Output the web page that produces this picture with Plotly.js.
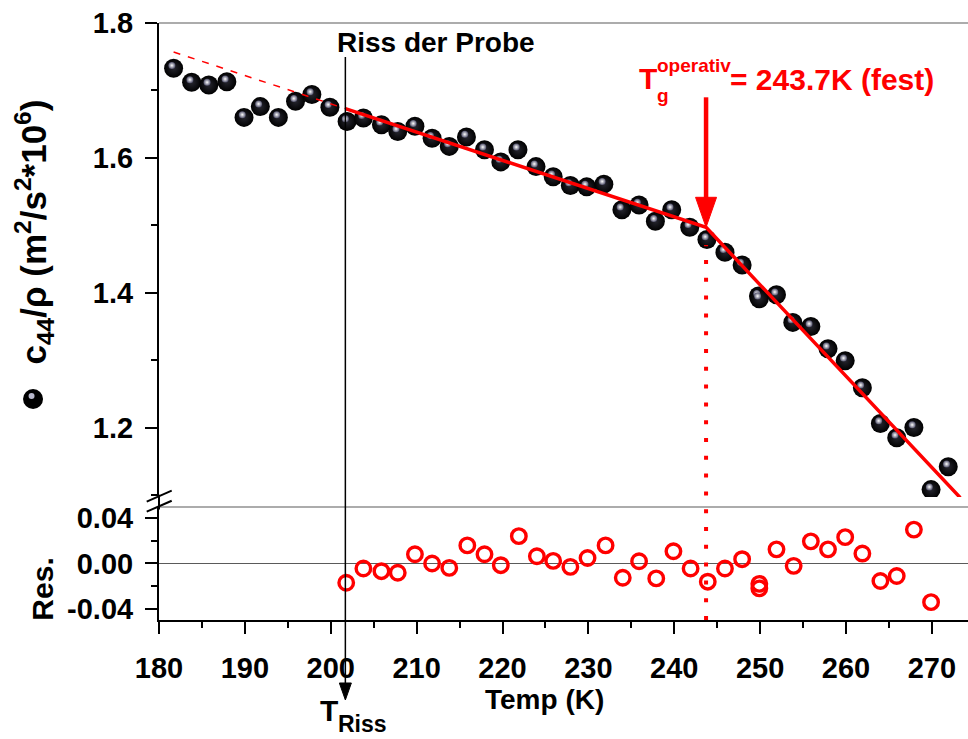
<!DOCTYPE html>
<html><head><meta charset="utf-8">
<script src="https://cdn.plot.ly/plotly-3.0.1.min.js"></script>
<style>html,body{margin:0;padding:0;background:#fff}#chart{width:968px;height:739px}</style>
</head><body><div id="chart"></div>
<script>
// ---- data ----
const temp = [181.7,183.8,185.8,187.9,189.9,191.8,193.9,195.9,197.8,199.9,
  201.9,203.8,205.9,207.8,209.8,211.8,213.8,215.8,217.9,219.8,
  221.8,223.9,225.9,227.9,229.8,231.8,233.9,235.9,237.8,239.7,
  241.8,243.8,245.9,247.9,249.8,249.9,251.9,253.8,255.9,257.9,
  259.9,261.9,264.0,265.9,267.9,269.9,271.9];
const c44 = [1.733,1.712,1.708,1.713,1.660,1.676,1.660,1.684,1.694,1.675,
  1.654,1.659,1.649,1.639,1.647,1.629,1.617,1.631,1.612,1.594,
  1.612,1.587,1.572,1.559,1.557,1.561,1.523,1.530,1.506,1.523,
  1.497,1.479,1.460,1.441,1.395,1.391,1.397,1.356,1.350,1.317,
  1.299,1.259,1.206,1.185,1.200,1.108,1.142];
const resTemp = [201.8,203.8,205.9,207.8,209.8,211.8,213.8,215.9,217.9,219.8,
  221.9,224.0,225.9,227.9,229.9,232.0,234.0,235.9,237.9,239.9,
  241.9,243.9,245.9,247.9,249.9,249.9,251.9,253.9,255.9,257.9,
  259.9,261.9,264.0,265.9,267.9,269.9];
const resVal = [-0.017,-0.0044,-0.0068,-0.0082,0.0082,0.000,-0.0039,0.016,0.0082,-0.0015,
  0.0242,0.0064,0.0023,-0.003,0.0049,0.016,-0.0126,0.002,-0.0132,0.0108,
  -0.0044,-0.0161,-0.0044,0.0038,-0.018,-0.022,0.0125,-0.0021,0.0196,0.0125,
  0.0233,0.0088,-0.0155,-0.0111,0.030,-0.0342];
const fitDashT = [181.7, 201.7];
const fitDashY = [1.757, 1.673];
const fitT = [201.7, 243.7, 273.3];
const fitY = [1.673, 1.497, 1.096];
const tRiss = 201.7;
const tgOperativ = 243.7;
const tgY = 1.497;
const xTickVals = [180,190,200,210,220,230,240,250,260,270];
const xTickText = ['180','190','200','210','220','230','240','250','260','270'];
const yTickVals = [1.2,1.4,1.6,1.8];
const yTickText = ['1.2','1.4','1.6','1.8'];
const resTickVals = [-0.04,0,0.04];
const resTickText = ['-0.04','0.00','0.04'];

// ---- chart ----
const FONT = 'Liberation Sans, Arial, sans-serif';
const tickFont = {family: FONT, size: 29, color: '#000', weight: 'bold'};
const RED = '#ff0000';
const X_RANGE = [180, 274.2];

const traces = [
  {x: temp, y: c44, xaxis: 'x', yaxis: 'y', mode: 'markers', name: 'c44/rho',
   marker: {size: 19, color: '#000000', line: {width: 0}, gradient: {type: 'radial', color: '#26262f'}}},
  {x: temp.map(t => t - 0.2), y: c44.map(v => v + 0.004), xaxis: 'x', yaxis: 'y', mode: 'markers',
   hoverinfo: 'skip', marker: {size: 7, color: '#50506a', line: {width: 0}, gradient: {type: 'radial', color: '#ffffff'}}},
  {x: fitDashT, y: fitDashY, xaxis: 'x', yaxis: 'y', mode: 'lines',
   line: {color: RED, width: 1.5, dash: '7px,8px'}},
  {x: fitT, y: fitY, xaxis: 'x', yaxis: 'y', mode: 'lines',
   line: {color: RED, width: 3.5}},
  {x: resTemp, y: resVal, xaxis: 'x', yaxis: 'y2', mode: 'markers', name: 'Res.',
   marker: {symbol: 'circle-open', size: 14.5, color: RED, line: {width: 3.4, color: RED}}}
];

const ann = (text, x, y, size, opts) => Object.assign({
  text: text, x: x, y: y, xref: 'paper', yref: 'paper', showarrow: false,
  xanchor: 'center', yanchor: 'middle',
  font: {family: FONT, size: size, color: '#000', weight: 'bold'}
}, opts || {});

const annotations = [
  ann('Riss der Probe', 0.2176, 0.9665, 28, {xanchor: 'left'}),
  ann('T', 0.5909, 0.9062, 30, {xanchor: 'left', font: {family: FONT, size: 30, color: RED, weight: 'bold'}}),
  ann('operativ', 0.6131, 0.9296, 19, {xanchor: 'left', font: {family: FONT, size: 19, color: RED, weight: 'bold'}}),
  ann('g', 0.6131, 0.8787, 19, {xanchor: 'left', font: {family: FONT, size: 19, color: RED, weight: 'bold'}}),
  ann('= 243.7K (fest)', 0.7033, 0.9052, 30, {xanchor: 'left', font: {family: FONT, size: 30, color: RED, weight: 'bold'}}),
  ann('c<sub>44</sub>/ρ (m<sup>2</sup>/s<sup>2</sup>*10<sup>6</sup>)', -0.1545, 0.649, 35, {textangle: -90}),
  ann('Res.', -0.1451, 0.0519, 30, {textangle: -90}),
  ann('Temp (K)', 0.4771, -0.134, 28),
  ann('T', 0.1965, -0.1524, 30, {xanchor: 'left'}),
  ann('Riss', 0.2188, -0.1742, 23, {xanchor: 'left'})
];

const rissPaperX = (tRiss - X_RANGE[0]) / (X_RANGE[1] - X_RANGE[0]);
const GRAY = '#5a5a5a';
const shapes = [
  {type: 'line', xref: 'paper', yref: 'paper', x0: 0, x1: 1, y0: 1, y1: 1, layer: 'below', line: {color: GRAY, width: 1.2}},
  {type: 'line', xref: 'paper', yref: 'paper', x0: 0, x1: 1, y0: 0.1893, y1: 0.1893, layer: 'below', line: {color: GRAY, width: 1.2}},
  {type: 'line', xref: 'paper', yref: 'y2', x0: 0, x1: 1, y0: 0, y1: 0, layer: 'below', line: {color: GRAY, width: 1.2}},
  // red dotted line at Tg
  {type: 'line', xref: 'x', yref: 'paper', x0: tgOperativ, x1: tgOperativ, y0: 0, y1: 0.628,
   line: {color: RED, width: 4, dash: '4px,13.8px'}},
  // red arrow pointing at the kink
  {type: 'line', xref: 'x', yref: 'y', xsizemode: 'scaled', ysizemode: 'pixel', yanchor: tgY,
   x0: tgOperativ, x1: tgOperativ, y0: 25, y1: 130, line: {color: RED, width: 4.5}},
  {type: 'path', xref: 'x', yref: 'y', xsizemode: 'pixel', ysizemode: 'pixel',
   xanchor: tgOperativ, yanchor: tgY, path: 'M -10.5 30 L 10.5 30 L 0 0 Z',
   fillcolor: RED, line: {color: RED, width: 1}},
  // black "Riss" arrow
  {type: 'line', xref: 'paper', yref: 'paper', ysizemode: 'pixel', yanchor: -0.134,
   x0: rissPaperX, x1: rissPaperX, y0: 12, y1: 643, line: {color: '#000', width: 1.5}},
  {type: 'path', xref: 'paper', yref: 'paper', xsizemode: 'pixel', ysizemode: 'pixel',
   xanchor: rissPaperX, yanchor: -0.134, path: 'M -6 17 L 6 17 L 0 0 Z',
   fillcolor: '#000', line: {color: '#000', width: 1}},
  // continuous left axis through the break
  {type: 'line', xref: 'paper', yref: 'paper', x0: 0, x1: 0, y0: 0.185, y1: 0.21, line: {color: '#000', width: 2}},
  // break marks
  {type: 'line', xref: 'paper', yref: 'paper', x0: -0.0152, x1: 0.0157, y0: 0.1982, y1: 0.2166, line: {color: '#000', width: 2}},
  {type: 'line', xref: 'paper', yref: 'paper', x0: -0.0152, x1: 0.0157, y0: 0.1814, y1: 0.1998, line: {color: '#000', width: 2}},
  // legend sphere next to y title
  {type: 'circle', xref: 'paper', yref: 'paper', xsizemode: 'pixel', ysizemode: 'pixel',
   xanchor: -0.1557, yanchor: 0.3702, x0: -10, x1: 10, y0: -10, y1: 10,
   fillcolor: '#000', line: {width: 0}},
  {type: 'circle', xref: 'paper', yref: 'paper', xsizemode: 'pixel', ysizemode: 'pixel',
   xanchor: -0.1557, yanchor: 0.3702, x0: -4.5, x1: 1.5, y0: 0, y1: 6,
   fillcolor: '#b8b8cc', line: {width: 0}}
];

const layout = {
  width: 968, height: 739,
  margin: {l: 159, r: 0, t: 23, b: 119},
  paper_bgcolor: '#fff', plot_bgcolor: '#fff',
  showlegend: false,
  xaxis: {
    range: X_RANGE, anchor: 'y2', showgrid: false, zeroline: false,
    showline: true, linecolor: '#000', linewidth: 2,
    tickmode: 'array', tickvals: xTickVals, ticktext: xTickText,
    ticks: 'outside', ticklen: 12, tickwidth: 2, tickcolor: '#000',
    minor: {dtick: 5, tick0: 180, ticks: 'outside', ticklen: 6, tickwidth: 2, tickcolor: '#000'},
    tickfont: tickFont, ticklabelstandoff: 9
  },
  yaxis: {
    domain: [0.206, 1], range: [1.097, 1.8], anchor: 'x', showgrid: false, zeroline: false,
    showline: true, linecolor: '#000', linewidth: 2,
    tickmode: 'array', tickvals: yTickVals, ticktext: yTickText,
    ticks: 'outside', ticklen: 12, tickwidth: 2, tickcolor: '#000',
    minor: {dtick: 0.1, tick0: 0, ticks: 'outside', ticklen: 6, tickwidth: 2, tickcolor: '#000'},
    tickfont: tickFont, ticklabelstandoff: 6
  },
  yaxis2: {
    domain: [0, 0.1893], range: [-0.05, 0.05], anchor: 'x', showgrid: false, zeroline: false,
    showline: true, linecolor: '#000', linewidth: 2,
    tickmode: 'array', tickvals: resTickVals, ticktext: resTickText,
    ticks: 'outside', ticklen: 12, tickwidth: 2, tickcolor: '#000',
    minor: {dtick: 0.02, tick0: 0, ticks: 'outside', ticklen: 6, tickwidth: 2, tickcolor: '#000'},
    tickfont: tickFont, ticklabelstandoff: 6
  },
  annotations: annotations,
  shapes: shapes
};

Plotly.newPlot('chart', traces, layout, {displayModeBar: false, staticPlot: true});
</script></body></html>
